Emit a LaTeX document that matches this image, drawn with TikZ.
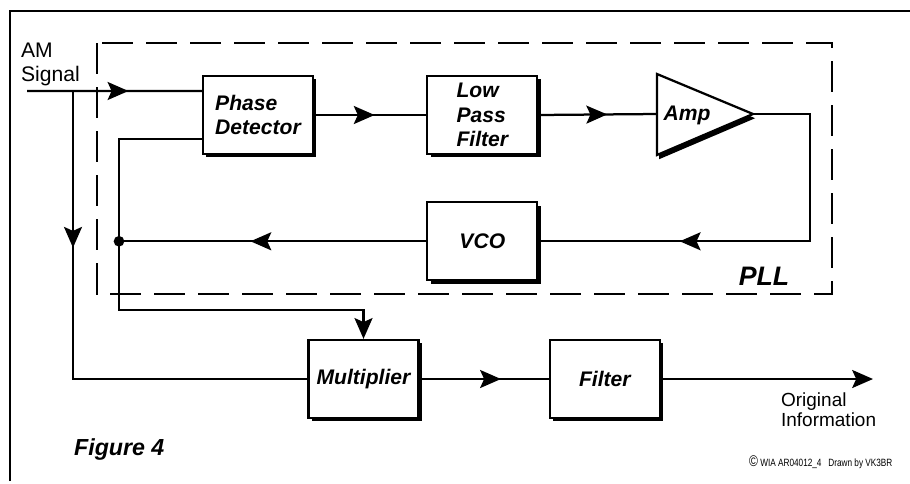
\documentclass[tikz,border=0pt]{standalone}
\usepackage{fontspec}
\usepackage{graphicx}
\setmainfont{Liberation Sans}
\usetikzlibrary{positioning,arrows.meta,shadows,decorations.markings}

\begin{document}
\begin{tikzpicture}[
  x=0.025cm, y=-0.025cm, line width=1.6pt,
  >={Stealth[length=0.52cm,width=0.45cm,inset=0.1cm]},
  blk/.style={draw, fill=white, minimum width=2.75cm, minimum height=1.95cm,
              align=left, inner sep=0pt, font=\fontsize{15}{17.5}\selectfont\bfseries\itshape,
              general shadow={fill=black, shadow xshift=2.4pt, shadow yshift=-2.4pt}},
  midarr/.style={postaction={decorate},
                 decoration={markings, mark=at position #1 with {\arrow{>}}}},
  pllbox/.style={dash pattern=on 0.775cm off 0.325cm, line width=1.8pt},
]
\useasboundingbox (0,0) rectangle (910,483);
\draw[line width=1.4pt] (10,481) -- (10,11) -- (910,11);

\node[blk] (pd) at (258,115) {Phase\\Detector};
\node[blk, right=2.8cm of pd] (lpf) {Low\\Pass\\Filter};
\node[blk, below=1.15cm of lpf] (vco) {VCO};
\node[blk] (mult) at (363.5,379) {Multiplier};
\node[blk, right=3.225cm of mult] (filt) {Filter};

% amplifier triangle
\coordinate (ampin) at (657,114);
\coordinate (ampout) at (753,114);
\draw[fill=white, general shadow={fill=black, shadow xshift=1.5pt, shadow yshift=-3pt}]
  (657,74) -- (ampout) -- (657,155) -- cycle;
\node[font=\fontsize{15}{17}\selectfont\bfseries\itshape] (amp) at (687,115) {Amp};

\node[align=left, anchor=north west, inner sep=0pt, font=\fontsize{15}{17}\selectfont] (am) at (20,42) {AM\\Signal};
\node[anchor=base, font=\fontsize{19}{20}\selectfont\bfseries\itshape] (pll) at (764,285) {PLL};
\node[align=left, anchor=north west, inner sep=0pt, font=\fontsize{13.5}{14.2}\selectfont] (orig) at (780,392) {Original\\Information};
\node[anchor=base west, inner sep=0pt, font=\fontsize{16.5}{18}\selectfont\bfseries\itshape] (fig) at (73,455) {Figure 4};
\node[anchor=base west, inner sep=0pt, font=\fontsize{7.5}{8}\selectfont] (copy) at (748,466)
  {\scalebox{0.78}[1]{{\fontsize{11}{11}\selectfont\textcopyright}\ WIA AR04012\_4\ \ \ Drawn by VK3BR}};

\coordinate (in) at (27,91);
\coordinate (split) at (73,91);
\coordinate (tap) at (119,310);
\coordinate (turn) at (810,114);
\coordinate (out) at (873,379);

\draw[midarr=0.58] (in) -- ([yshift=0.6cm]pd.west);
\draw[midarr=0.3] (split) |- (mult.west);
\draw[midarr=0.54] (pd.east) -- (lpf.west);
\draw[midarr=0.58] (lpf.east) -- (ampin);
\draw[midarr=0.69] (ampout) -- (turn) |- (vco.east);
\draw[midarr=0.572] (vco.west) -- (vco.west -| tap);
\draw[->] ([yshift=-0.6cm]pd.west) -| (tap) -| (mult.north);
\fill (vco.west -| tap) circle (3.8pt);
\draw[midarr=0.63] (mult.east) -- (filt.west);
\draw[->] (filt.east) -- (out);

\draw[pllbox] (97,43) rectangle (832,294);
\end{tikzpicture}
\end{document}
